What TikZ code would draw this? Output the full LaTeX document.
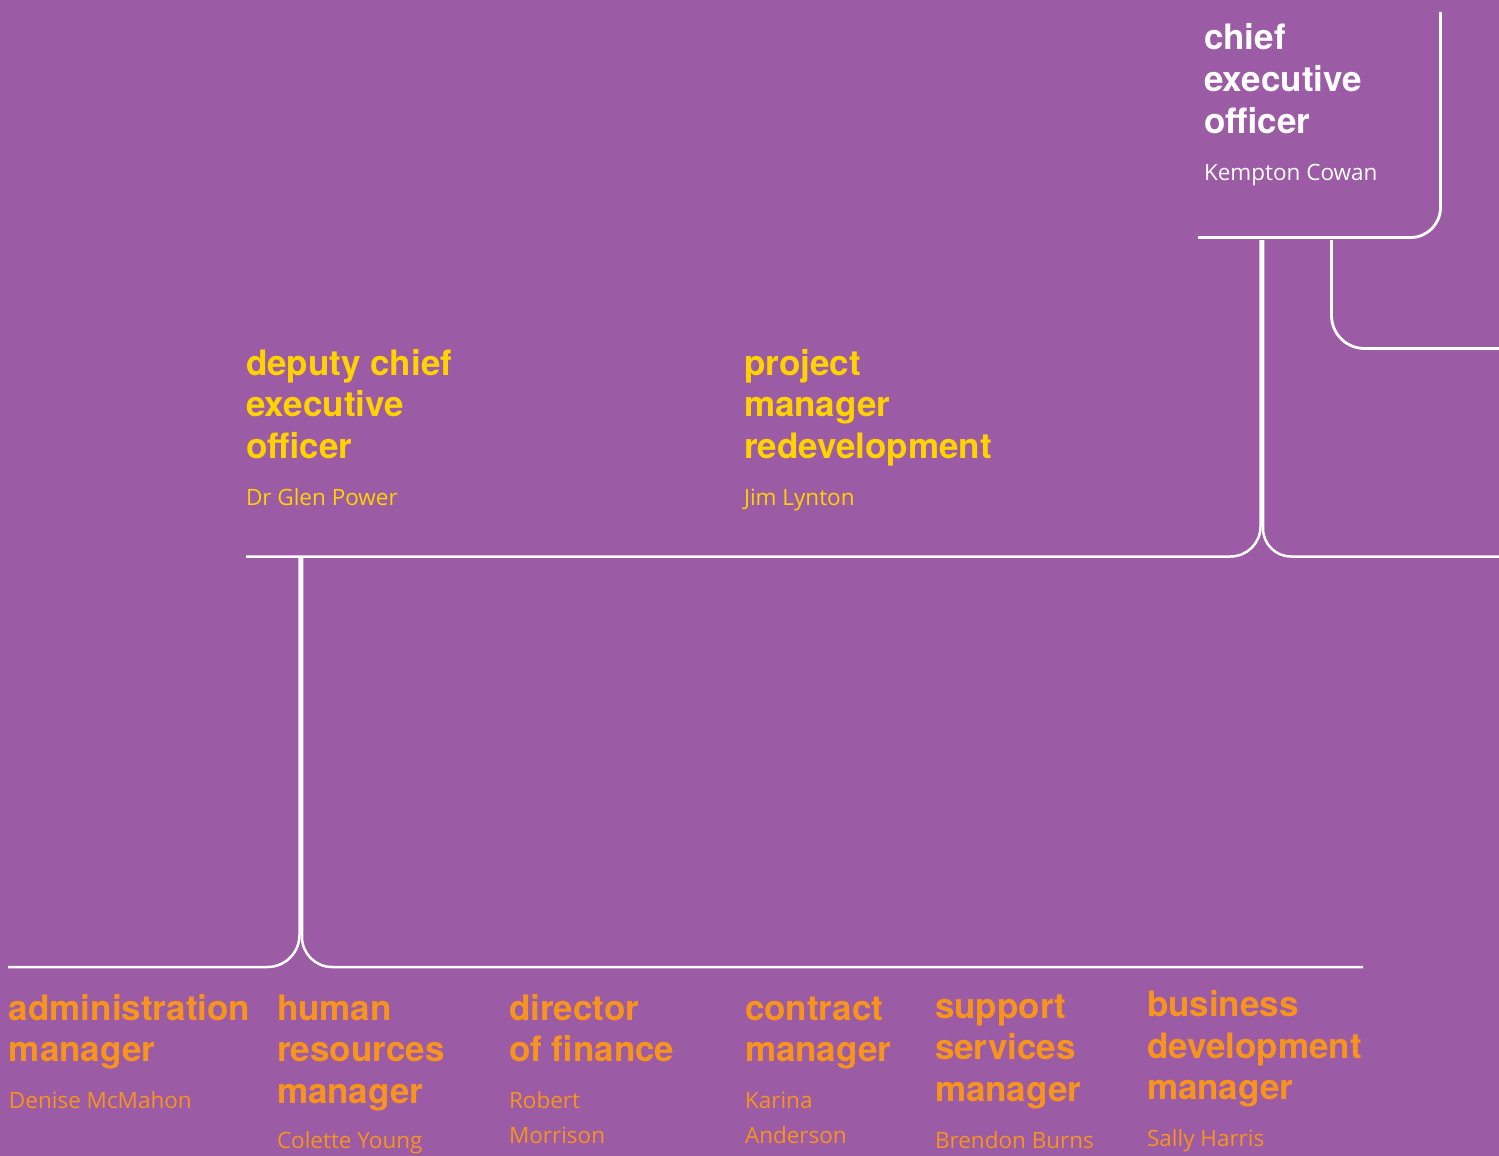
\documentclass[tikz,border=0pt]{standalone}
\usepackage{fontspec}
\setmainfont{TeX Gyre Heros}
\newfontfamily\namefont{Open Sans}
\definecolor{bgpurple}{RGB}{155,91,165}
\definecolor{roleyellow}{RGB}{255,210,0}
\definecolor{roleorange}{RGB}{247,148,29}
\newcommand{\rolelines}[1]{\parbox[t]{400pt}{\raggedright #1}}
\tikzset{
  role/.style={anchor=base west, inner sep=0pt, outer sep=0pt,
    font=\fontsize{35}{41.7}\selectfont\bfseries},
  person/.style={anchor=base west, inner sep=0pt, outer sep=0pt,
    font=\namefont\fontsize{22.5}{35}\selectfont},
  link/.style={draw=white, line width=2.8pt},
  twin/.style={draw=white, line width=2.5pt},
}
\begin{document}
\begin{tikzpicture}[x=1pt,y=-1pt]
\fill[bgpurple] (0,0) rectangle (1499,1156);
\useasboundingbox (0,0) rectangle (1499,1156);

% chief executive
\node[role, text=white] (ceo) at (1204,50) {\rolelines{chief\\executive\\officer}};
\node[person, text=white] (ceoname) at (1204,180) {Kempton Cowan};

% second tier
\node[role, text=roleyellow] (dceo) at (246,375) {\rolelines{deputy chief\\executive\\officer}};
\node[person, text=roleyellow] (dceoname) at (246,505) {Dr Glen Power};
\node[role, text=roleyellow] (pm) at (744,375) {\rolelines{project\\manager\\redevelopment}};
\node[person, text=roleyellow] (pmname) at (744,505) {Jim Lynton};

% third tier
\node[role, text=roleorange] (adm) at (9,1020) {\rolelines{administration\\manager}};
\node[person, text=roleorange] (admname) at (9,1108) {Denise McMahon};
\node[role, text=roleorange] (hr) at (277,1020) {\rolelines{human\\resources\\manager}};
\node[person, text=roleorange] (hrname) at (277,1148) {Colette Young};
\node[role, text=roleorange] (fin) at (509,1020) {\rolelines{director\\of finance}};
\node[person, text=roleorange] (finname) at (509,1108) {\rolelines{Robert\\Morrison}};
\node[role, text=roleorange] (con) at (745,1020) {\rolelines{contract\\manager}};
\node[person, text=roleorange] (conname) at (745,1108) {\rolelines{Karina\\Anderson}};
\node[role, text=roleorange] (sup) at (935,1018) {\rolelines{support\\services\\manager}};
\node[person, text=roleorange] (supname) at (935,1148) {Brendon Burns};
\node[role, text=roleorange] (bus) at (1147,1016.5) {\rolelines{business\\development\\manager}};
\node[person, text=roleorange] (busname) at (1147,1146.5) {Sally Harris};

% connector anchor points
\coordinate (ceoTop) at (1440.5,12);
\coordinate (ceoCorner) at (1440.5,237.5);
\coordinate (ceoBase) at (1198,237.5);
\coordinate (sideTop) at (1331.5,240);
\coordinate (sideCorner) at (1331.5,348.5);
\coordinate (sideEnd) at (1499,348.5);
\coordinate (trunkL) at (1260.5,240);
\coordinate (trunkR) at (1263,240);
\coordinate (tierL) at (1260.5,556.5);
\coordinate (tierR) at (1263,556.5);
\coordinate (tierWest) at (246,556.5);
\coordinate (tierEast) at (1499,556.5);
\coordinate (stemL) at (299.5,557);
\coordinate (stemR) at (302,557);
\coordinate (baseL) at (299.5,967);
\coordinate (baseR) at (302,967);
\coordinate (baseWest) at (8,967);
\coordinate (baseEast) at (1363,967);

% chief executive frame
\draw[link, rounded corners=30pt] (ceoTop) -- (ceoCorner) -- (ceoBase);
\draw[link, rounded corners=33pt] (sideTop) -- (sideCorner) -- (sideEnd);

% trunk down to second tier
\draw[twin, rounded corners=30pt] (trunkL) -- (tierL) -- (tierWest);
\draw[twin, rounded corners=28pt] (trunkR) -- (tierR) -- (tierEast);

% stem down to third tier
\draw[twin, rounded corners=32pt] (stemL) -- (baseL) -- (baseWest);
\draw[twin, rounded corners=30pt] (stemR) -- (baseR) -- (baseEast);
\end{tikzpicture}
\end{document}
